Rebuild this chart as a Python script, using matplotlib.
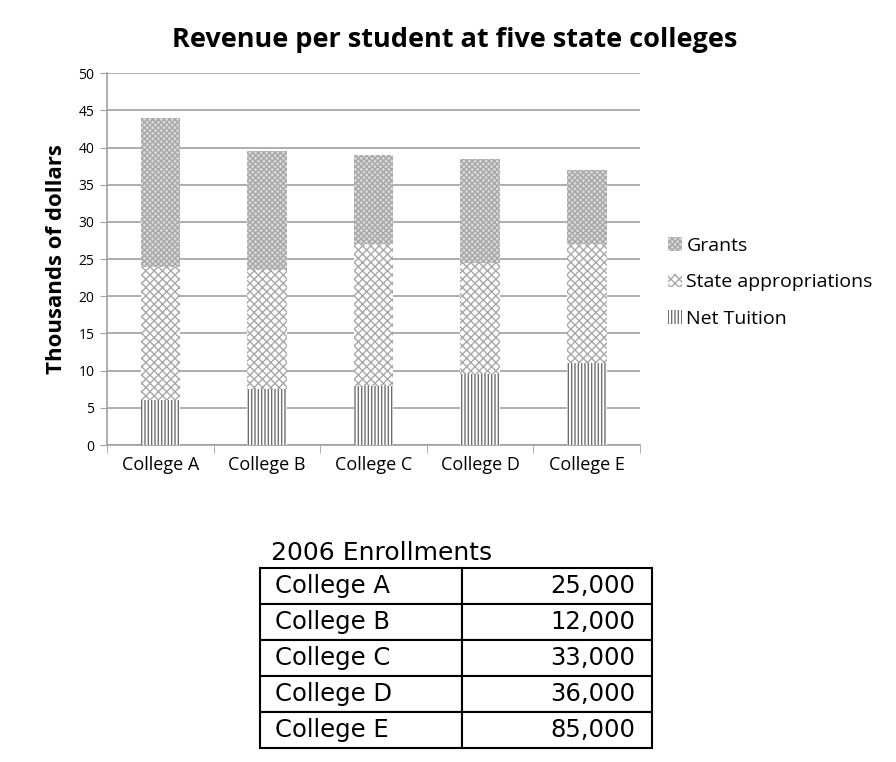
import matplotlib.pyplot as plt
import numpy as np

plt.rcParams['font.family'] = ['Open Sans', 'DejaVu Sans']
plt.rcParams['hatch.linewidth'] = 1.0

colleges = ["College A", "College B", "College C", "College D", "College E"]
net_tuition = [6.0, 7.5, 8.0, 9.5, 11.0]
state_approp = [18.0, 16.0, 19.0, 15.0, 16.0]
grants = [20.0, 16.0, 12.0, 14.0, 10.0]
enrollments = ["25,000", "12,000", "33,000", "36,000", "85,000"]

fig = plt.figure(figsize=(8.96, 7.62), dpi=100)
ax = fig.add_axes([0.1194, 0.416, 0.595, 0.488])

x = np.arange(len(colleges))
w = 0.37
tu = np.array(net_tuition)
st = np.array(state_approp)

b1 = ax.bar(x, tu, w, color='white', edgecolor='#707070', hatch='|||||', linewidth=0,
            label='Net Tuition', zorder=3)
b2 = ax.bar(x, st, w, bottom=tu, color='white', edgecolor='#a8a8a8', hatch='xxxx',
            linewidth=0, label='State appropriations', zorder=3)
b3 = ax.bar(x, grants, w, bottom=tu + st, color='#dadada', edgecolor='#a8a8a8',
            hatch='xxxxxx', linewidth=0, label='Grants', zorder=3)

ax.set_ylim(0, 50)
ax.set_xlim(-0.5, len(colleges) - 0.5)
ax.set_yticks(np.arange(0, 51, 5))
ax.yaxis.grid(True, color='#a0a0a0', linewidth=1.2, zorder=0)
ax.set_xticks(x)
ax.set_xticklabels(colleges, fontsize=13)
ax.set_xticks(np.arange(-0.5, len(colleges)), minor=True)
ax.tick_params(axis='x', which='major', length=0, pad=8)
ax.tick_params(axis='x', which='minor', length=6, color='#a0a0a0')
ax.tick_params(axis='y', labelsize=10, length=5, color='#a0a0a0', pad=4)
for s in ['top', 'right']:
    ax.spines[s].set_visible(False)
for s in ['left', 'bottom']:
    ax.spines[s].set_color('#a0a0a0')
    ax.spines[s].set_linewidth(1.2)
ax.set_ylabel("Thousands of dollars", fontsize=16, fontweight='bold', labelpad=8)

fig.text(0.508, 0.948, "Revenue per student at five state colleges", ha='center',
         va='center', fontsize=19.5, fontweight='bold')

ax.legend(handles=[b3, b2, b1], loc='upper left', bbox_to_anchor=(0.726, 0.712),
          bbox_transform=fig.transFigure, frameon=False, fontsize=14,
          handlelength=0.7, handleheight=0.7, handletextpad=0.25, labelspacing=0.95)

# enrollment table
tax = fig.add_axes([0.290, 0.0184, 0.4375, 0.236])
tax.axis('off')
tbl = tax.table(cellText=[[c, e] for c, e in zip(colleges, enrollments)],
                colWidths=[0.515, 0.485], loc='center', bbox=[0, 0, 1, 1])
tbl.auto_set_font_size(False)
for (r, c), cell in tbl.get_celld().items():
    cell.set_linewidth(1.5)
    cell.set_edgecolor('black')
    cell.get_text().set_fontsize(17.5)
    cell.get_text().set_family(['DejaVu Sans'])
    cell.get_text().set_ha('left' if c == 0 else 'right')
    cell.PAD = 0.075 if c == 0 else 0.085
fig.text(0.302, 0.274, "2006 Enrollments", ha='left', va='center', fontsize=18,
         family=['DejaVu Sans'])

fig.savefig("out.png", dpi=100)
